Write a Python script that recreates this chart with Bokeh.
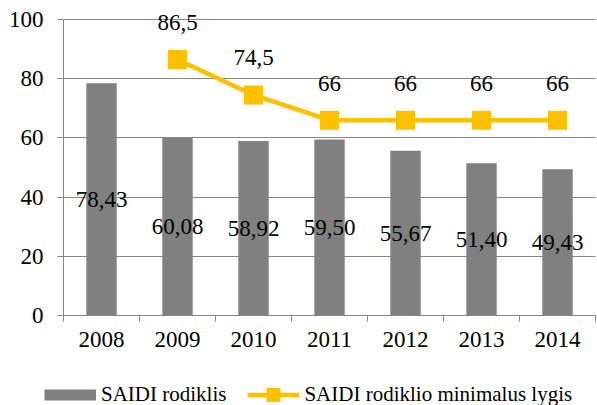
from bokeh.plotting import figure
from bokeh.models import (ColumnDataSource, Range1d, FixedTicker, Legend, LegendItem)
from bokeh.core.properties import value
from bokeh.embed import file_html
from bokeh.resources import INLINE

years = ["2008", "2009", "2010", "2011", "2012", "2013", "2014"]
saidi = [78.43, 60.08, 58.92, 59.50, 55.67, 51.40, 49.43]
min_level = [None, 86.5, 74.5, 66, 66, 66, 66]
y_ticks = [0, 20, 40, 60, 80, 100]
series_names = ["SAIDI rodiklis", "SAIDI rodiklio minimalus lygis"]

FONT = "'Liberation Serif', 'Times New Roman', serif"
BAR_COLOR = "#808080"
LINE_COLOR = "#FFC000"
GRID_COLOR = "#868686"

W, H = 597, 405
# plot area (pixels) inside the canvas
PX0, PX1, PY_TOP, PY_BOT = 63, 595, 19, 315
n = len(years)
ux = (PX1 - PX0) / n
uy = (PY_BOT - PY_TOP) / 100.0

xpos = [i + 0.5 for i in range(n)]
bar_src = ColumnDataSource(dict(
    x=xpos, top=saidi, mid=[v / 2 for v in saidi],
    label=[f"{v:.2f}".replace(".", ",") for v in saidi]))

lx = [x for x, v in zip(xpos, min_level) if v is not None]
ly = [v for v in min_level if v is not None]
line_src = ColumnDataSource(dict(
    x=lx, y=ly, label=[f"{v:g}".replace(".", ",") for v in ly]))

p = figure(width=W, height=H, output_backend="svg", toolbar_location=None,
           x_range=Range1d(-PX0 / ux, n + (W - PX1) / ux),
           y_range=Range1d(-(H - PY_BOT) / uy, 100 + PY_TOP / uy),
           min_border=0)
p.outline_line_color = None
p.background_fill_color = "white"
p.border_fill_color = "white"

p.xgrid.grid_line_color = None
p.ygrid.grid_line_color = GRID_COLOR
p.ygrid.grid_line_width = 1
p.ygrid.ticker = FixedTicker(ticks=y_ticks[1:])
p.ygrid.cross_bounds = (0, n)

p.vbar(x="x", top="top", width=0.4, source=bar_src,
       fill_color=BAR_COLOR, line_color=None)
p.text(x="x", y="mid", text="label", source=bar_src,
       text_font=value(FONT), text_font_size="23px", text_color="black",
       text_align="center", text_baseline="middle")

ln = p.line(x="x", y="y", source=line_src, line_color=LINE_COLOR, line_width=4.5)
sc = p.scatter(x="x", y="y", source=line_src, marker="square", size=19,
               fill_color=LINE_COLOR, line_color=None)
p.text(x="x", y="y", text="label", source=line_src, y_offset=-37,
       text_font=value(FONT), text_font_size="23px", text_color="black",
       text_align="center", text_baseline="middle")

# axes, pinned to the data origin
xa = p.xaxis[0]
xa.fixed_location = 0
xa.bounds = (0, n)
xa.ticker = FixedTicker(ticks=xpos, minor_ticks=list(range(n + 1)))
xa.major_label_overrides = {x: y for x, y in zip(xpos, years)}
xa.major_tick_out = 0
xa.major_tick_in = 0
xa.minor_tick_out = 6
xa.minor_tick_in = 0
xa.minor_tick_line_color = GRID_COLOR
xa.axis_line_color = GRID_COLOR
xa.major_label_standoff = 10
xa.major_label_text_font = FONT
xa.major_label_text_font_size = "23px"
xa.major_label_text_color = "black"

ya = p.yaxis[0]
ya.fixed_location = 0
ya.bounds = (0, 100)
ya.ticker = FixedTicker(ticks=y_ticks)
ya.major_tick_out = 6
ya.major_tick_in = 0
ya.minor_tick_line_color = None
ya.major_tick_line_color = GRID_COLOR
ya.axis_line_color = GRID_COLOR
ya.major_label_standoff = 14
ya.major_label_text_font = FONT
ya.major_label_text_font_size = "23px"
ya.major_label_text_color = "black"

# legend proxy for the bar series (no drawable data; gives a flat gray swatch)
nan = float("nan")
bar_proxy = p.line(x=[nan, nan], y=[nan, nan], line_color=BAR_COLOR, line_width=11)

legend = Legend(items=[
    LegendItem(label=series_names[0], renderers=[bar_proxy]),
    LegendItem(label=series_names[1], renderers=[ln, sc]),
], orientation="horizontal", location=(44, -7))
legend.label_text_font = FONT
legend.label_text_font_size = "21px"
legend.label_text_color = "black"
legend.glyph_width = 52
legend.glyph_height = 35
legend.label_standoff = 5
legend.spacing = 21
legend.padding = 0
legend.margin = 0
legend.border_line_color = None
legend.background_fill_alpha = 0
p.add_layout(legend, "center")

open("out.html", "w").write(file_html(p, INLINE))
